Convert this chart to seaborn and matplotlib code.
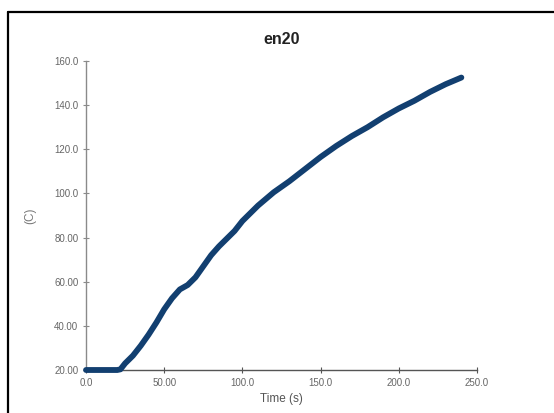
import matplotlib
matplotlib.use("Agg")
import matplotlib.pyplot as plt
import seaborn as sns
import pandas as pd
from matplotlib.lines import Line2D

time_s = [0, 5, 10, 15, 20, 22, 25, 30, 35, 40, 45, 50, 55, 60, 65, 70, 75, 80, 85,
          90, 95, 100, 110, 120, 130, 140, 150, 160, 170, 180, 190, 200, 210, 220, 230, 240]
temp_c = [20, 20, 20, 20, 20, 20.3, 23, 26.5, 31, 36, 41.5, 47.5, 52.5, 56.5, 58.5, 62, 67,
          72, 76, 79.5, 83, 87.5, 94.5, 100.5, 105.5, 111, 116.5, 121.5, 126, 130, 134.5,
          138.5, 142, 146, 149.5, 152.5]
x_ticks = [0, 50, 100, 150, 200, 250]
x_tick_labels = ["0.0", "50.00", "100.0", "150.0", "200.0", "250.0"]
y_ticks = [20, 40, 60, 80, 100, 120, 140, 160]
y_tick_labels = ["20.00", "40.00", "60.00", "80.00", "100.0", "120.0", "140.0", "160.0"]

sns.set_style("white")
plt.rcParams['font.family'] = ['Liberation Sans', 'DejaVu Sans']

df = pd.DataFrame({"Time (s)": time_s, "(C)": temp_c})

fig = plt.figure(figsize=(5.54, 4.13), dpi=100)
ax = fig.add_axes([86/554, 1-370/413, (477-86)/554, (370-61)/413])

sns.lineplot(data=df, x="Time (s)", y="(C)", ax=ax, color="#123f70",
             linewidth=4.2, solid_capstyle="round", solid_joinstyle="round")
for ln in ax.lines:
    ln.set_clip_on(False)
    ln.set_zorder(5)

ax.set_xlim(0, 250)
ax.set_ylim(20, 160)
ax.set_xticks(x_ticks)
ax.set_xticklabels(x_tick_labels)
ax.set_yticks(y_ticks)
ax.set_yticklabels(y_tick_labels)

for s in ["top", "right"]:
    ax.spines[s].set_visible(False)
ax.spines["left"].set_color("#8a8a8a")
ax.spines["bottom"].set_color("#555555")
ax.spines["left"].set_linewidth(1.0)
ax.spines["bottom"].set_linewidth(1.0)

ax.tick_params(axis="both", bottom=True, left=True, direction="inout", length=5, width=0.8,
               colors="#555555", labelsize=7, labelcolor="#666666", pad=3)
ax.tick_params(axis="y", color="#8a8a8a")

ax.set_title("en20", fontsize=11.5, fontweight="bold", color="#222222", pad=12)
ax.set_xlabel("Time (s)", fontsize=8.5, color="#555555", labelpad=4)
ax.set_ylabel("(C)", fontsize=8.5, color="#777777", labelpad=13)

# frame of the screenshot
x0 = 7.5/554
y0 = 1 - 12/413
fig.add_artist(Line2D([x0, x0], [0, y0], transform=fig.transFigure, color="black", linewidth=1.6))
fig.add_artist(Line2D([x0, 1.0], [y0, y0], transform=fig.transFigure, color="black", linewidth=1.6))

fig.savefig("out.png", dpi=100, facecolor="white")
